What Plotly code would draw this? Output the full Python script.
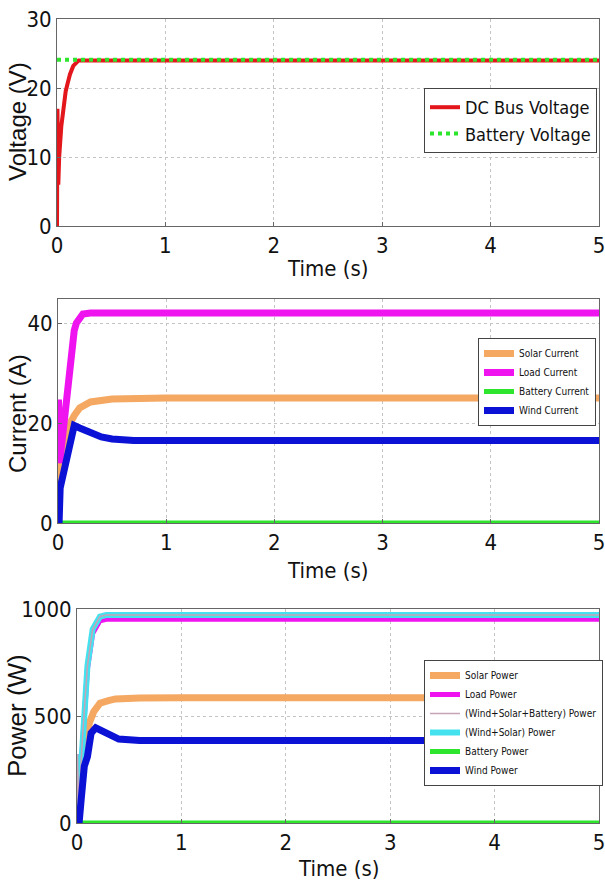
import plotly.graph_objects as go

# ---------------- data ----------------
t_dc = [0, 0.004, 0.008, 0.012, 0.02, 0.04, 0.06, 0.08, 0.1, 0.12, 0.15, 0.18, 0.2, 5]
v_dc = [0, 17, 12, 6, 10, 14.5, 17.5, 19.5, 20.8, 22, 23.2, 23.8, 24, 24]
t_bat_v = [0, 5]
v_bat = [24.1, 24.1]

t_load_i = [0, 0.005, 0.015, 0.04, 0.077, 0.1, 0.12, 0.15, 0.17, 0.23, 0.3, 5]
i_load = [24, 24, 12, 17, 24.5, 30, 34.6, 38.5, 40, 41.8, 42, 42]
t_solar_i = [0, 0.008, 0.015, 0.05, 0.1, 0.12, 0.15, 0.2, 0.3, 0.5, 1.0, 5]
i_solar = [0, 10, 12, 15, 19, 20.3, 21.5, 23, 24.2, 24.8, 25, 25]
t_wind_i = [0, 0.01, 0.02, 0.05, 0.08, 0.12, 0.15, 0.2, 0.3, 0.4, 0.5, 0.7, 5]
i_wind = [0, 0, 7, 10, 13, 17, 19.5, 19, 18, 17.2, 16.8, 16.5, 16.5]
t_bat_i = [0, 5]
i_bat = [0, 0]

t_ws_p = [0, 0.005, 0.01, 0.02, 0.055, 0.1, 0.15, 0.22, 0.28, 0.4, 5]
p_ws = [0, 320, 200, 110, 420, 735, 905, 965, 972, 972, 972]
p_wsb = [0, 320, 200, 110, 420, 735, 905, 965, 972, 972, 972]
t_load_p = [0, 0.005, 0.01, 0.02, 0.055, 0.1, 0.15, 0.22, 0.28, 0.4, 5]
p_load = [0, 320, 200, 110, 410, 720, 885, 945, 952, 952, 952]
t_solar_p = [0, 0.01, 0.05, 0.1, 0.12, 0.16, 0.22, 0.3, 0.37, 0.6, 1.0, 5]
p_solar = [0, 180, 300, 420, 470, 520, 560, 572, 580, 584, 585, 585]
t_wind_p = [0, 0.02, 0.04, 0.07, 0.1, 0.135, 0.18, 0.22, 0.28, 0.4, 0.6, 5]
p_wind = [0, 0, 110, 265, 310, 420, 445, 435, 415, 392, 386, 385]
t_bat_p = [0, 5]
p_bat = [0, 0]

x_ticks = [0, 1, 2, 3, 4, 5]

# ---------------- colours ----------------
RED = "#e3161b"
GREEN = "#2ee52e"
ORANGE = "#f4a862"
MAGENTA = "#ef14ef"
BLUE = "#0b12d6"
CYAN = "#44e2ee"
THIN = "#c7a3b8"

fig = go.Figure()

def add(x, y, color, width, name, xa, ya, legend, dash=None, rank=1000):
    fig.add_trace(go.Scatter(
        x=x, y=y, mode="lines", name=name,
        line=dict(color=color, width=width, dash=dash),
        xaxis=xa, yaxis=ya, legend=legend, legendrank=rank,
    ))

# panel 1
add(t_dc, v_dc, RED, 4, "DC Bus Voltage", "x", "y", "legend")
add(t_bat_v, v_bat, GREEN, 4, "Battery Voltage", "x", "y", "legend", dash="dot")

# panel 2
add(t_solar_i, i_solar, ORANGE, 7, "Solar Current", "x2", "y2", "legend2")
add(t_load_i, i_load, MAGENTA, 7, "Load Current", "x2", "y2", "legend2")
add(t_bat_i, i_bat, GREEN, 5, "Battery Current", "x2", "y2", "legend2")
add(t_wind_i, i_wind, BLUE, 7, "Wind Current", "x2", "y2", "legend2")

# panel 3
add(t_solar_p, p_solar, ORANGE, 7, "Solar Power", "x3", "y3", "legend3", rank=1)
add(t_load_p, p_load, MAGENTA, 5, "Load Power", "x3", "y3", "legend3", rank=2)
add(t_ws_p, p_ws, CYAN, 6, "(Wind+Solar) Power", "x3", "y3", "legend3", rank=4)
add(t_ws_p, p_wsb, THIN, 1.5, "(Wind+Solar+Battery) Power", "x3", "y3", "legend3", rank=3)
add(t_bat_p, p_bat, GREEN, 5, "Battery Power", "x3", "y3", "legend3", rank=5)
add(t_wind_p, p_wind, BLUE, 7, "Wind Power", "x3", "y3", "legend3", rank=6)

W, H = 605, 888
def py(px):
    return 1 - px / H
def pxx(px):
    return px / W

NARROW = "DejaVu Sans Condensed, Liberation Sans Narrow, Arial Narrow, Liberation Sans, Arial"
TICKFONT = dict(family=NARROW, size=22, color="#111")
TITLEFONT = dict(family="Liberation Sans, Arial", size=24, color="#111")

axis_common = dict(
    showline=True, linecolor="#666", linewidth=1, mirror=True,
    showgrid=True, gridcolor="#c4c4c4", griddash="dot", gridwidth=1,
    zeroline=False, ticks="inside", ticklen=4, tickcolor="#666",
    tickfont=TICKFONT, automargin=False, ticklabeloverflow="allow",
)

fig.update_layout(
    width=W, height=H,
    margin=dict(l=0, r=0, t=0, b=0, autoexpand=False),
    paper_bgcolor="white", plot_bgcolor="white",
    xaxis=dict(domain=[pxx(57), pxx(599)], anchor="y", range=[0, 5], tickvals=x_ticks, **axis_common),
    yaxis=dict(domain=[py(226), py(19)], anchor="x", range=[0, 30], tickvals=[0, 10, 20, 30], **axis_common),
    xaxis2=dict(domain=[pxx(58), pxx(599)], anchor="y2", range=[0, 5], tickvals=x_ticks, **axis_common),
    yaxis2=dict(domain=[py(523), py(299)], anchor="x2", range=[0, 44.8], tickvals=[0, 20, 40], **axis_common),
    xaxis3=dict(domain=[pxx(77), pxx(599)], anchor="y3", range=[0, 5], tickvals=x_ticks, **axis_common),
    yaxis3=dict(domain=[py(823), py(609)], anchor="x3", range=[0, 1000], tickvals=[0, 500, 1000], **axis_common),
    legend=dict(x=pxx(424), y=py(88), xanchor="left", yanchor="top",
                bordercolor="#444", borderwidth=1, bgcolor="white",
                font=dict(family=NARROW, size=18, color="#111"),
                itemwidth=30, tracegroupgap=0),
    legend2=dict(x=pxx(478), y=py(338), xanchor="left", yanchor="top",
                 bordercolor="#444", borderwidth=1, bgcolor="white",
                 font=dict(family=NARROW, size=10, color="#111"),
                 itemwidth=30, tracegroupgap=0),
    legend3=dict(x=pxx(424), y=py(660), xanchor="left", yanchor="top",
                 bordercolor="#444", borderwidth=1, bgcolor="white",
                 font=dict(family=NARROW, size=10, color="#111"),
                 itemwidth=30, tracegroupgap=0),
    showlegend=True,
)

ann = []
for text, ypx, xpx in [("Time (s)", 268, 328), ("Time (s)", 570, 328), ("Time (s)", 868, 338)]:
    ann.append(dict(text=text, x=pxx(xpx), y=py(ypx), xref="paper", yref="paper",
                    showarrow=False, font=TICKFONT, xanchor="center", yanchor="middle"))
for text, ypx, fs in [("Voltage (V)", 122, 24), ("Current (A)", 414, 24), ("Power (W)", 716, 26)]:
    ann.append(dict(text=text, x=pxx(17), y=py(ypx), xref="paper", yref="paper", textangle=-90,
                    showarrow=False, font=dict(TITLEFONT, size=fs), xanchor="center", yanchor="middle"))
fig.update_layout(annotations=ann)

fig.write_html("out.html", config={"displayModeBar": False},
               post_script="document.body.style.margin='0';document.body.style.overflow='hidden';")
